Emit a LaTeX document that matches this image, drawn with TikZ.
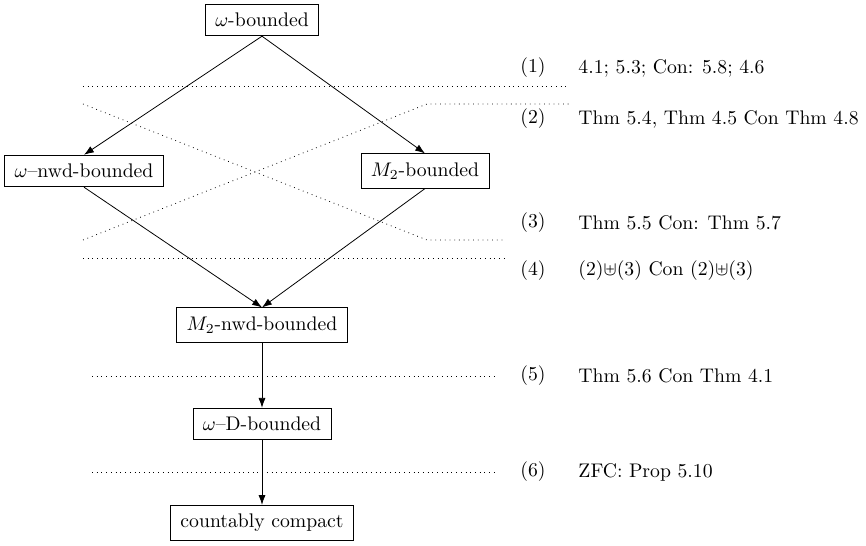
\documentclass[tikz,border=0pt]{standalone}
\usepackage{amsmath,amsfonts}
\usepackage{tikz}
\usetikzlibrary{arrows.meta}

\begin{document}
\begin{tikzpicture}[x=25.38pt,y=25.38pt,>={Latex[length=5pt,width=3.6pt]},
    box/.style={draw,inner xsep=5pt,inner ysep=4.5pt},cut/.style={dotted},lab/.style={anchor=west}]
    \useasboundingbox (0,0) rectangle (17.32,-10.92);
    \node[box] at (5.24,-0.40) (wb) {$\omega$-bounded};
    \node[box] at (1.68,-3.42) (wnwd) {$\omega$--nwd-bounded};
    \node[box] at (8.50,-3.42) (mb) {$M_2$-bounded};
    \node[box] at (5.24,-6.50) (mnwd) {$M_2$-nwd-bounded};
    \node[box] at (5.24,-8.48) (wd) {$\omega$--D-bounded};
    \node[box] at (5.24,-10.46) (cc) {countably compact};
    \draw (wb.south) edge[->] (wnwd.north);
    \draw (wb.south) edge[->] (mb.north);
    \draw (wnwd.south) edge[->] (mnwd.north);
    \draw (mb.south) edge[->] (mnwd.north);
    \draw (mnwd) edge[->] (wd);
    \draw (wd) edge[->] (cc);
    % separating lines
    \draw[cut] (1.66,-1.72) -- (11.38,-1.72);
    \draw[cut] (1.66,-4.80) -- (8.54,-2.08) -- (11.38,-2.08);
    \draw[cut] (1.66,-2.08) -- (8.54,-4.80) -- (10.10,-4.80);
    \draw[cut] (1.66,-5.16) -- (10.10,-5.16);
    \draw[cut] (1.84,-7.52) -- (9.94,-7.52);
    \draw[cut] (1.84,-9.44) -- (9.94,-9.44);
    % labels
    \node[lab] at (10.27,-1.36) (n1) {(1)};
    \node[lab] at (11.43,-1.36) (t1) {4.1; 5.3; Con: 5.8; 4.6};
    \node[lab] at (10.27,-2.38) (n2) {(2)};
    \node[lab] at (11.43,-2.38) (t2) {Thm 5.4, Thm 4.5 Con Thm 4.8};
    \node[lab] at (10.27,-4.46) (n3) {(3)};
    \node[lab] at (11.43,-4.46) (t3) {Thm 5.5 Con: Thm 5.7};
    \node[lab] at (10.27,-5.42) (n4) {(4)};
    \node[lab] at (11.43,-5.42) (t4) {(2)$\uplus$(3) Con (2)$\uplus$(3)};
    \node[lab] at (10.27,-7.52) (n5) {(5)};
    \node[lab] at (11.43,-7.52) (t5) {Thm 5.6 Con Thm 4.1};
    \node[lab] at (10.27,-9.44) (n6) {(6)};
    \node[lab] at (11.43,-9.44) (t6) {ZFC: Prop 5.10};
\end{tikzpicture}
\end{document}
